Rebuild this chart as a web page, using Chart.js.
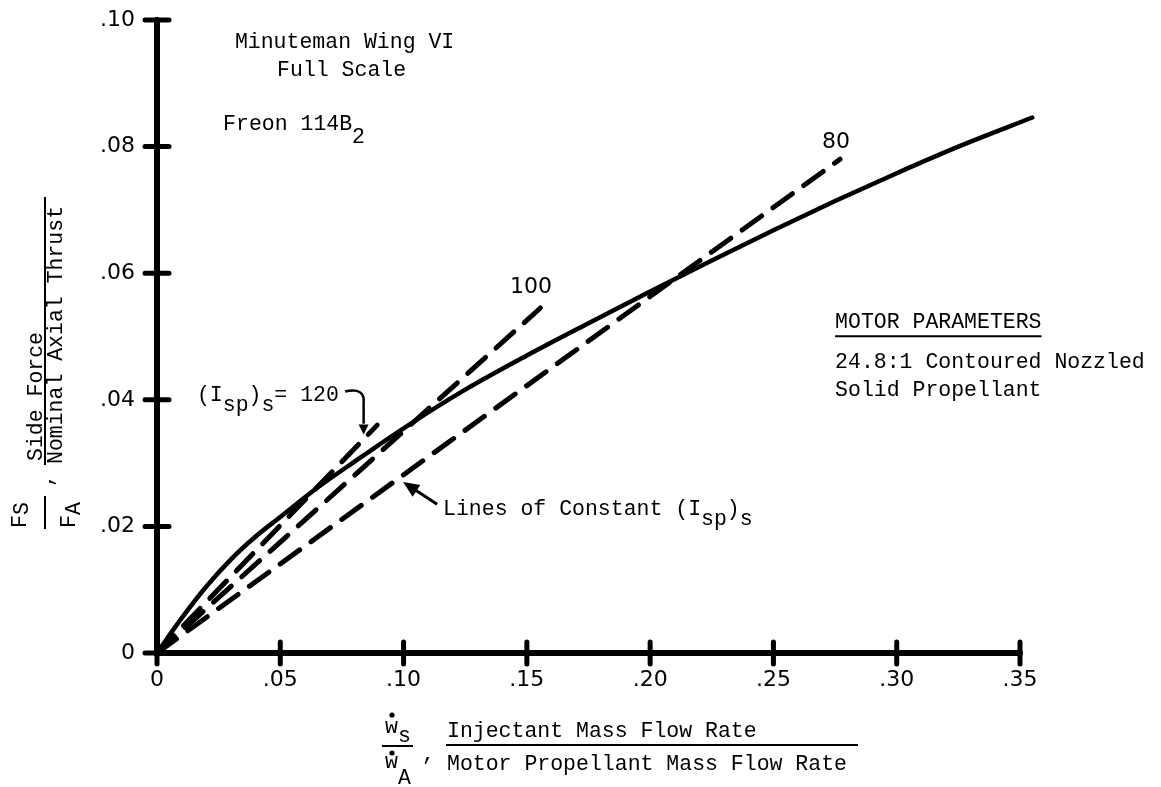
<!DOCTYPE html>
<html><head><meta charset="utf-8">
<script src="https://cdn.jsdelivr.net/npm/chart.js@4.4.1/dist/chart.umd.min.js"></script>
<style>html,body{margin:0;padding:0;background:#fff;}#wrap{width:1161px;height:787px;position:relative;}</style>
</head><body><div id="wrap"><canvas id="c" width="1161" height="787"></canvas></div>
<script>
// ---- data ----
const xTickValues = [0, 0.05, 0.10, 0.15, 0.20, 0.25, 0.30, 0.35];
const xTickLabels = ['0', '.05', '.10', '.15', '.20', '.25', '.30', '.35'];
const yTickValues = [0, 0.02, 0.04, 0.06, 0.08, 0.10];
const yTickLabels = ['0', '.02', '.04', '.06', '.08', '.10'];

// measured side-force curve (solid)
const flowRatio = [0, 0.01, 0.02, 0.03, 0.04, 0.05, 0.065, 0.08, 0.10, 0.125, 0.15, 0.175, 0.20, 0.225, 0.25, 0.275, 0.30, 0.325, 0.355];
const sideForce = [0, 0.0055, 0.0105, 0.0148, 0.0184, 0.0215, 0.0261, 0.0302, 0.0355, 0.0416, 0.047, 0.0521, 0.0571, 0.062, 0.0668, 0.0714, 0.0758, 0.080, 0.0846];

// lines of constant (Isp)s (dashed)
const isp120X = [0, 0.0893];
const isp120Y = [0, 0.036];
const isp100X = [0, 0.1555];
const isp100Y = [0, 0.0545];
const isp80X = [0, 0.277];
const isp80Y = [0, 0.078];

const MONO = '21.5px "Liberation Mono", "DejaVu Sans Mono", monospace';
const SANS = '22px "DejaVu Sans", sans-serif';
const PLOT_TOP = 20;

function pts(xs, ys) { return xs.map((v, i) => ({x: v, y: ys[i]})); }

function runs(ctx, parts, x, y) {
  let cx = x;
  parts.forEach(p => {
    const t = Array.isArray(p) ? p[0] : p;
    const dy = Array.isArray(p) ? p[1] : 0;
    ctx.fillText(t, cx, y + dy);
    cx += ctx.measureText(t).width;
  });
  return cx;
}
function rot(ctx, px, py, fn) {
  ctx.save(); ctx.translate(px, py); ctx.rotate(-Math.PI / 2); fn(); ctx.restore();
}
function head(ctx, tx, ty, fx, fy, len, hw) {
  const a = Math.atan2(ty - fy, tx - fx);
  ctx.beginPath();
  ctx.moveTo(tx, ty);
  ctx.lineTo(tx - len * Math.cos(a) + hw * Math.sin(a), ty - len * Math.sin(a) - hw * Math.cos(a));
  ctx.lineTo(tx - len * Math.cos(a) - hw * Math.sin(a), ty - len * Math.sin(a) + hw * Math.cos(a));
  ctx.closePath(); ctx.fill();
}

const fixArea = {
  id: 'fixArea',
  afterLayout(chart) {
    const ca = chart.chartArea, ys = chart.scales.y;
    if (ca.top !== PLOT_TOP) {
      ca.top = PLOT_TOP; ca.height = ca.bottom - ca.top;
      ys.top = PLOT_TOP; ys.height = ys.bottom - ys.top;
      ys.configure();
    }
  }
};

const decor = {
  id: 'decor',
  afterDraw(chart) {
    const {ctx, scales: {x, y}} = chart;
    const X = v => x.getPixelForValue(v), Y = v => y.getPixelForValue(v);
    ctx.save();
    ctx.strokeStyle = '#000'; ctx.fillStyle = '#000';
    // axis lines + crossing ticks
    const x0 = X(0), y0 = Y(0);
    ctx.lineWidth = 6; ctx.lineCap = 'round';
    ctx.beginPath(); ctx.moveTo(x0, Y(0.10)); ctx.lineTo(x0, y0); ctx.lineTo(X(0.35), y0); ctx.stroke();
    ctx.lineWidth = 5;
    yTickValues.forEach(v => { const p = Y(v); ctx.beginPath(); ctx.moveTo(x0 - 12, p); ctx.lineTo(x0 + 12, p); ctx.stroke(); });
    xTickValues.forEach(v => { const p = X(v); ctx.beginPath(); ctx.moveTo(p, y0 - 11); ctx.lineTo(p, y0 + 11); ctx.stroke(); });

    ctx.lineCap = 'butt';
    ctx.textAlign = 'left'; ctx.textBaseline = 'alphabetic';
    ctx.font = MONO;
    ctx.fillText('Minuteman Wing VI', X(0.0316), Y(0.0956));
    ctx.fillText('Full Scale', X(0.0487), Y(0.0912));
    runs(ctx, ['Freon 114B', ['2', 13]], X(0.0268), Y(0.0826));
    runs(ctx, ['(I', ['sp', 10], ')', ['s', 10], '= 120'], X(0.0162), Y(0.0398));
    runs(ctx, ['Lines of Constant (I', ['sp', 10], ')', ['s', 10]], X(0.116), Y(0.0218));
    const mp = 'MOTOR PARAMETERS';
    ctx.fillText(mp, X(0.275), Y(0.0513));
    const mw = ctx.measureText(mp).width;
    ctx.lineWidth = 2;
    ctx.beginPath(); ctx.moveTo(X(0.275), Y(0.0513) + 8); ctx.lineTo(X(0.275) + mw, Y(0.0513) + 8); ctx.stroke();
    ctx.fillText('24.8:1 Contoured Nozzled', X(0.275), Y(0.0450));
    ctx.fillText('Solid Propellant', X(0.275), Y(0.0406));

    ctx.font = SANS; ctx.textAlign = 'center';
    ctx.fillText('80', X(0.2754), Y(0.0797));
    ctx.fillText('100', X(0.1517), Y(0.0568));
    ctx.textAlign = 'left';

    // arrow: Lines of Constant
    ctx.lineWidth = 3;
    const tx = X(0.0998), ty = Y(0.0270), fx = X(0.1136), fy = Y(0.0235);
    ctx.beginPath(); ctx.moveTo(fx, fy); ctx.lineTo(tx + (fx - tx) * 0.35, ty + (fy - ty) * 0.35); ctx.stroke();
    head(ctx, tx, ty, fx, fy, 16, 7);
    // curved arrow for 120
    ctx.lineWidth = 2.5;
    ctx.beginPath();
    ctx.moveTo(X(0.0763), Y(0.0413));
    ctx.quadraticCurveTo(X(0.0845), Y(0.0420), X(0.0838), Y(0.0395));
    ctx.lineTo(X(0.0838), Y(0.0362));
    ctx.stroke();
    head(ctx, X(0.0838), Y(0.0345), X(0.0838), Y(0.0370), 10, 5);

    // x-axis title
    ctx.font = MONO;
    runs(ctx, ['w', ['s', 9]], 385, 733);
    ctx.beginPath(); ctx.arc(392, 715, 2.6, 0, Math.PI * 2); ctx.fill();
    ctx.lineWidth = 2;
    ctx.beginPath(); ctx.moveTo(382, 746); ctx.lineTo(413, 746); ctx.stroke();
    runs(ctx, ['w', ['A', 16]], 385, 768);
    ctx.beginPath(); ctx.arc(392, 753, 2.6, 0, Math.PI * 2); ctx.fill();
    ctx.fillText(',', 422, 760);
    ctx.fillText('Injectant Mass Flow Rate', 447, 737);
    ctx.beginPath(); ctx.moveTo(446, 745); ctx.lineTo(858, 745); ctx.stroke();
    ctx.fillText('Motor Propellant Mass Flow Rate', 447, 770);

    // y-axis title (rotated)
    rot(ctx, 42, 461, () => ctx.fillText('Side Force', 0, 0));
    rot(ctx, 62, 464, () => ctx.fillText('Nominal Axial Thrust', 0, 0));
    ctx.beginPath(); ctx.moveTo(45, 197); ctx.lineTo(45, 465); ctx.stroke();
    rot(ctx, 52, 487, () => ctx.fillText(',', 0, 0));
    rot(ctx, 26, 528, () => runs(ctx, ['F', ['S', 2]], 0, 0));
    ctx.beginPath(); ctx.moveTo(45, 496); ctx.lineTo(45, 529); ctx.stroke();
    rot(ctx, 75, 528, () => runs(ctx, ['F', ['A', 5]], 0, 0));
    ctx.restore();
  }
};

const dashStyle = {borderColor: '#000', borderWidth: 5, borderDash: [24, 14], borderCapStyle: 'round', pointRadius: 0, showLine: true, clip: false, fill: false};

new Chart(document.getElementById('c'), {
  type: 'scatter',
  data: {
    datasets: [
      Object.assign({label: '(Isp)s = 120', data: pts(isp120X, isp120Y)}, dashStyle),
      Object.assign({label: '(Isp)s = 100', data: pts(isp100X, isp100Y)}, dashStyle),
      Object.assign({label: '(Isp)s = 80', data: pts(isp80X, isp80Y)}, dashStyle),
      {label: 'Side force', data: pts(flowRatio, sideForce), borderColor: '#000', borderWidth: 4.5,
       pointRadius: 0, showLine: true, cubicInterpolationMode: 'monotone', clip: false, fill: false, borderCapStyle: 'round'}
    ]
  },
  options: {
    responsive: false, animation: false, devicePixelRatio: 1,
    layout: {autoPadding: false, padding: {left: 0, top: 20, right: 141, bottom: 0}},
    plugins: {legend: {display: false}, tooltip: {enabled: false}},
    scales: {
      x: {
        type: 'linear', min: 0, max: 0.35,
        afterBuildTicks: s => { s.ticks = xTickValues.map(v => ({value: v})); },
        afterFit: s => { s.height = 134; },
        ticks: {callback: (v, i) => xTickLabels[i], font: {family: '"DejaVu Sans", sans-serif', size: 22}, color: '#000', padding: 14, maxRotation: 0, autoSkip: false},
        grid: {display: false, drawTicks: false},
        border: {display: false}
      },
      y: {
        type: 'linear', min: 0, max: 0.10,
        afterBuildTicks: s => { s.ticks = yTickValues.map(v => ({value: v})); },
        afterFit: s => { s.width = 157; },
        ticks: {callback: (v, i) => yTickLabels[i], font: {family: '"DejaVu Sans", sans-serif', size: 22}, color: '#000', padding: 22, autoSkip: false},
        grid: {display: false, drawTicks: false},
        border: {display: false}
      }
    }
  },
  plugins: [fixArea, decor]
});
</script></body></html>
